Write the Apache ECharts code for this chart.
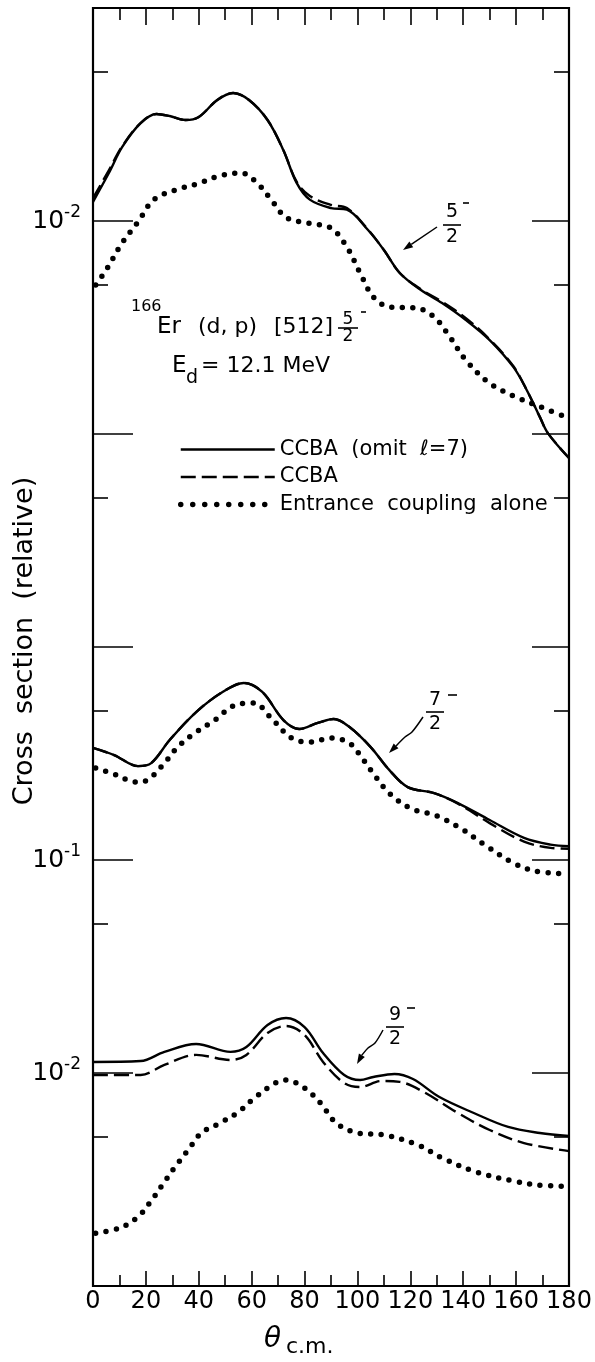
<!DOCTYPE html>
<html><head><meta charset="utf-8">
<script src="https://cdn.jsdelivr.net/npm/echarts@6/dist/echarts.min.js"></script>
<style>html,body{margin:0;padding:0;background:#fff}#c{width:595px;height:1362px}</style>
</head><body><div id="c"></div>
<script>
// ---------- data (cross section, relative units; theta in degrees c.m.) ----------
// 5/2- group : drawn against the upper "10^-2" label
const thetaA_solid = [0,6,11,18,24,29,35,40,47,53,59,66,72,77,82,90,96,104,110,116,124,132,141,150,159,164,169,172,180];
const A_solid = [0.0123,0.0168,0.0222,0.0288,0.0318,0.0311,0.0298,0.0308,0.0370,0.0399,0.0370,0.0298,0.0215,0.0151,0.0126,0.0115,0.0113,0.00907,0.00731,0.00570,0.00474,0.00412,0.00343,0.00276,0.00206,0.00161,0.00120,0.00101,0.000771];
const thetaA_dash = [0,6,11,18,24,29,35,40,47,53,59,66,72,77,82,90,96,104,110,116,124,132,141,150,159,164,169,172,180];
const A_dash = [0.0128,0.0173,0.0224,0.0288,0.0318,0.0311,0.0298,0.0308,0.0370,0.0399,0.0370,0.0298,0.0215,0.0153,0.0131,0.0119,0.0115,0.00912,0.00731,0.00570,0.00478,0.00418,0.00350,0.00278,0.00208,0.00161,0.00120,0.00101,0.000771];
const thetaA_dot = [1,5,11,17,23,32,39,48,56,62,68,73,81,90,96,101,106,112,122,129,135,141,150,160,170,179];
const A_dot = [0.00501,0.00589,0.00788,0.00989,0.0126,0.0141,0.0149,0.0163,0.0168,0.0151,0.0123,0.0104,0.00979,0.00927,0.00755,0.00570,0.00440,0.00395,0.00391,0.00354,0.00285,0.00222,0.00173,0.00149,0.00133,0.00120];
// 7/2- group : drawn against the "10^-1" label
const thetaB_solid = [0,8,17,22,29,39,49,57,64,72,78,85,91,97,105,112,119,129,138,150,163,173,180];
const B_solid = [0.336,0.311,0.276,0.285,0.366,0.495,0.615,0.678,0.615,0.454,0.412,0.440,0.459,0.421,0.339,0.265,0.220,0.206,0.185,0.154,0.127,0.118,0.116];
const thetaB_dash = [0,8,17,22,29,39,49,57,64,72,78,85,91,97,105,112,119,129,138,150,163,173,180];
const B_dash = [0.336,0.311,0.276,0.285,0.366,0.495,0.615,0.678,0.615,0.454,0.412,0.440,0.459,0.421,0.339,0.265,0.220,0.206,0.184,0.149,0.122,0.114,0.113];
const thetaB_dot = [1,8,14,18,22,27,32,38,45,55,61,67,75,82,90,97,102,107,112,120,130,139,148,159,167,179];
const B_dot = [0.270,0.253,0.235,0.232,0.245,0.285,0.339,0.391,0.444,0.540,0.546,0.469,0.374,0.358,0.374,0.354,0.298,0.245,0.206,0.175,0.161,0.141,0.118,0.0968,0.0888,0.0860];
// 9/2- group : drawn against the lower "10^-2" label
const thetaC_solid = [0,18,27,39,52,58,66,73,80,87,95,101,106,114,121,131,144,157,169,180];
const C_solid = [0.01127,0.01138,0.01256,0.01368,0.01256,0.01324,0.01680,0.01813,0.01644,0.01242,0.00979,0.00927,0.00958,0.00990,0.00937,0.00771,0.00649,0.00558,0.00523,0.00506];
const thetaC_dash = [0,18,27,39,52,58,66,73,80,87,95,101,109,116,125,138,150,163,180];
const C_dash = [0.00979,0.00979,0.01091,0.01216,0.01151,0.01216,0.01541,0.01663,0.01507,0.01127,0.00897,0.00859,0.00917,0.00908,0.00815,0.00649,0.00540,0.00469,0.00430];
const thetaC_dot = [1,10,17,22,27,31,36,41,48,55,61,69,73,80,86,92,100,110,123,132,145,159,168,179];
const C_dot = [0.00177,0.00187,0.00211,0.00251,0.00308,0.00362,0.00435,0.00523,0.00582,0.00656,0.00763,0.00897,0.00927,0.00851,0.00723,0.00582,0.00523,0.00512,0.00459,0.00399,0.00343,0.00311,0.00298,0.00294];

// vertical offset factors of each group on the common log axis
const SCALE_A = 1e7;   // 5/2- : 10^-2 sits at axis value 1e5
const SCALE_BC = 1e3;  // 7/2-, 9/2- : 10^-1 at 1e2, 10^-2 at 1e1

// x-axis tick labels and y-axis label texts
const xTicks = [0,20,40,60,80,100,120,140,160,180];
const yLabelMap = {'100000':'-2', '100':'-1', '10':'-2'};

const NAME_SOLID = 'CCBA  (omit  \u2113=7)';
const NAME_DASH = 'CCBA';
const NAME_DOT = 'Entrance  coupling  alone';

// ---------- chart ----------
const FONT = 'DejaVu Sans';
const chart = echarts.init(document.getElementById('c'), null, {renderer: 'canvas'});

function pairs(th, v, s) { return th.map((t, i) => [t, v[i] * s]); }
const solidStyle = {color: '#000', width: 2.4, type: 'solid'};
const dashStyle = {color: '#000', width: 2.4, type: [15, 6]};
const dotStyle = {color: '#000', width: 5.5, type: [0, 10.5], cap: 'round'};
function ser(name, data, ls) {
  return {type: 'line', name, data, xAxisIndex: 0, yAxisIndex: 0, smooth: 0.35, symbol: 'none', showSymbol: false,
          lineStyle: ls, itemStyle: {color: '#000'}, silent: true, animation: false, z: 3};
}
const series = [
  ser(NAME_SOLID, pairs(thetaA_solid, A_solid, SCALE_A), solidStyle),
  ser(NAME_DASH, pairs(thetaA_dash, A_dash, SCALE_A), dashStyle),
  ser(NAME_DOT, pairs(thetaA_dot, A_dot, SCALE_A), dotStyle),
  ser(NAME_SOLID, pairs(thetaB_solid, B_solid, SCALE_BC), solidStyle),
  ser(NAME_DASH, pairs(thetaB_dash, B_dash, SCALE_BC), dashStyle),
  ser(NAME_DOT, pairs(thetaB_dot, B_dot, SCALE_BC), dotStyle),
  ser(NAME_SOLID, pairs(thetaC_solid, C_solid, SCALE_BC), solidStyle),
  ser(NAME_DASH, pairs(thetaC_dash, C_dash, SCALE_BC), dashStyle),
  ser(NAME_DOT, pairs(thetaC_dot, C_dot, SCALE_BC), dotStyle)
];

const tickLS = {color: '#000', width: 1.6};
const yBase = {type: 'log', logBase: 10, min: 1, max: 1e6, axisLine: {show: false}, splitLine: {show: false},
               minorTick: {show: false}, minorSplitLine: {show: false}};
const yAxis = [
  Object.assign({}, yBase, {position: 'left', axisTick: {inside: true, length: 40, lineStyle: tickLS},
    axisLabel: {show: true, margin: 12, color: '#000', fontFamily: FONT,
      formatter: v => { const k = String(Math.round(v)); return yLabelMap[k] ? '{b|10}{s|' + yLabelMap[k] + '}' : ''; },
      rich: {b: {fontFamily: FONT, fontSize: 25, lineHeight: 34, color: '#000'},
             s: {fontFamily: FONT, fontSize: 17, lineHeight: 17, verticalAlign: 'top', color: '#000'}}}}),
  Object.assign({}, yBase, {min: 0.2, max: 2e5, position: 'left', axisTick: {inside: true, length: 15, lineStyle: tickLS}, axisLabel: {show: false}}),
  Object.assign({}, yBase, {position: 'right', axisTick: {inside: true, length: 37, lineStyle: tickLS}, axisLabel: {show: false}}),
  Object.assign({}, yBase, {min: 0.2, max: 2e5, position: 'right', axisTick: {inside: true, length: 15, lineStyle: tickLS}, axisLabel: {show: false}})
];
const xAxis = [
  {type: 'value', min: 0, max: 180, interval: 20, position: 'bottom', axisLine: {show: false}, splitLine: {show: false},
   axisTick: {inside: true, length: 15, lineStyle: tickLS},
   minorTick: {show: true, splitNumber: 2, length: 11, lineStyle: tickLS},
   axisLabel: {show: true, margin: 4, color: '#000', fontFamily: FONT, fontSize: 24,
     formatter: v => xTicks.indexOf(v) >= 0 ? String(v) : ''}},
  {type: 'value', min: 0, max: 180, interval: 20, position: 'top', axisLine: {show: false}, splitLine: {show: false},
   axisTick: {inside: true, length: 17, lineStyle: tickLS},
   minorTick: {show: true, splitNumber: 2, length: 12, lineStyle: tickLS},
   axisLabel: {show: false}}
];

// ---------- annotations ----------
function txt(x, y, text, size, extra) {
  return {type: 'text', x, y, silent: true, z: 10,
    style: Object.assign({text, fontFamily: FONT, fontSize: size, fill: '#000', align: 'left', verticalAlign: 'middle'}, extra || {})};
}
function seg(x1, y1, x2, y2, w) {
  return {type: 'line', silent: true, z: 10, shape: {x1, y1, x2, y2}, style: {stroke: '#000', lineWidth: w || 1.5}};
}
function frac(cx, by, num, fs, half, gap, mdx, mdy, mlen) {
  return [
    txt(cx, by - gap, num, fs, {align: 'center'}),
    seg(cx - half, by, cx + half, by, 1.6),
    txt(cx, by + gap, '2', fs, {align: 'center'}),
    seg(cx + mdx, by - mdy, cx + mdx + mlen, by - mdy, 1.6)
  ];
}
function arrow(pts) {
  const n = pts.length, [x1, y1] = pts[n - 2], [x2, y2] = pts[n - 1];
  const a = Math.atan2(y2 - y1, x2 - x1), L = 10, W = 3.4;
  const bx = x2 - L * Math.cos(a), by = y2 - L * Math.sin(a);
  const px = -Math.sin(a) * W, py = Math.cos(a) * W;
  return [
    {type: 'polyline', silent: true, z: 10, shape: {points: pts.slice(0, n - 1).concat([[bx, by]]), smooth: 0.3},
     style: {stroke: '#000', lineWidth: 1.5, fill: null}},
    {type: 'polygon', silent: true, z: 10, shape: {points: [[x2, y2], [bx + px, by + py], [bx - px, by - py]]},
     style: {fill: '#000'}}
  ];
}

const graphic = [].concat(
  [txt(25, 641, 'Cross  section  (relative)', 27, {align: 'center'})].map(g => Object.assign(g, {rotation: Math.PI / 2})),
  [txt(131, 307, '166', 16), txt(157, 327, 'Er', 23), txt(198, 327, '(d, p)', 22), txt(274, 327, '[512]', 22)],
  frac(348, 328, '5', 17, 10, 8.5, 13, 16, 5),
  [txt(172, 366, 'E', 23), txt(186, 378, 'd', 19), txt(201, 366, '= 12.1 MeV', 22)],
  frac(452, 225, '5', 19, 9, 12.5, 11, 22, 6),
  frac(435, 712, '7', 19, 9, 12, 13, 17, 9),
  frac(395, 1027, '9', 19, 9, 12, 12, 19, 8),
  arrow([[437, 227], [403, 250]]),
  arrow([[423, 717], [412, 732], [405, 737], [389, 753]]),
  arrow([[383, 1030], [375, 1043], [368, 1048], [362, 1055], [357, 1064]]),
  [txt(264, 1340, '\u03B8', 28, {fontStyle: 'italic'}), txt(286, 1347, 'c.m.', 22)]
);

chart.setOption({
  animation: false,
  backgroundColor: '#fff',
  grid: {left: 93, right: 26, top: 8, bottom: 76, show: true, borderColor: '#000', borderWidth: 2.2,
         backgroundColor: 'transparent', containLabel: false, outerBoundsMode: 'none'},
  legend: {
    data: [
      {name: NAME_SOLID, lineStyle: {color: '#000', width: 2.4, type: 'solid'}},
      {name: NAME_DASH, lineStyle: {color: '#000', width: 2.4, type: [15, 6]}},
      {name: NAME_DOT, lineStyle: {color: '#000', width: 5.5, type: [0, 12], cap: 'round'}}
    ],
    orient: 'vertical', left: 173, top: 434, itemWidth: 94, itemHeight: 14, itemGap: 6.5, selectedMode: false,
    itemStyle: {opacity: 0},
    textStyle: {fontFamily: FONT, fontSize: 21, color: '#000'}},
  xAxis, yAxis, series, graphic
});
</script></body></html>
